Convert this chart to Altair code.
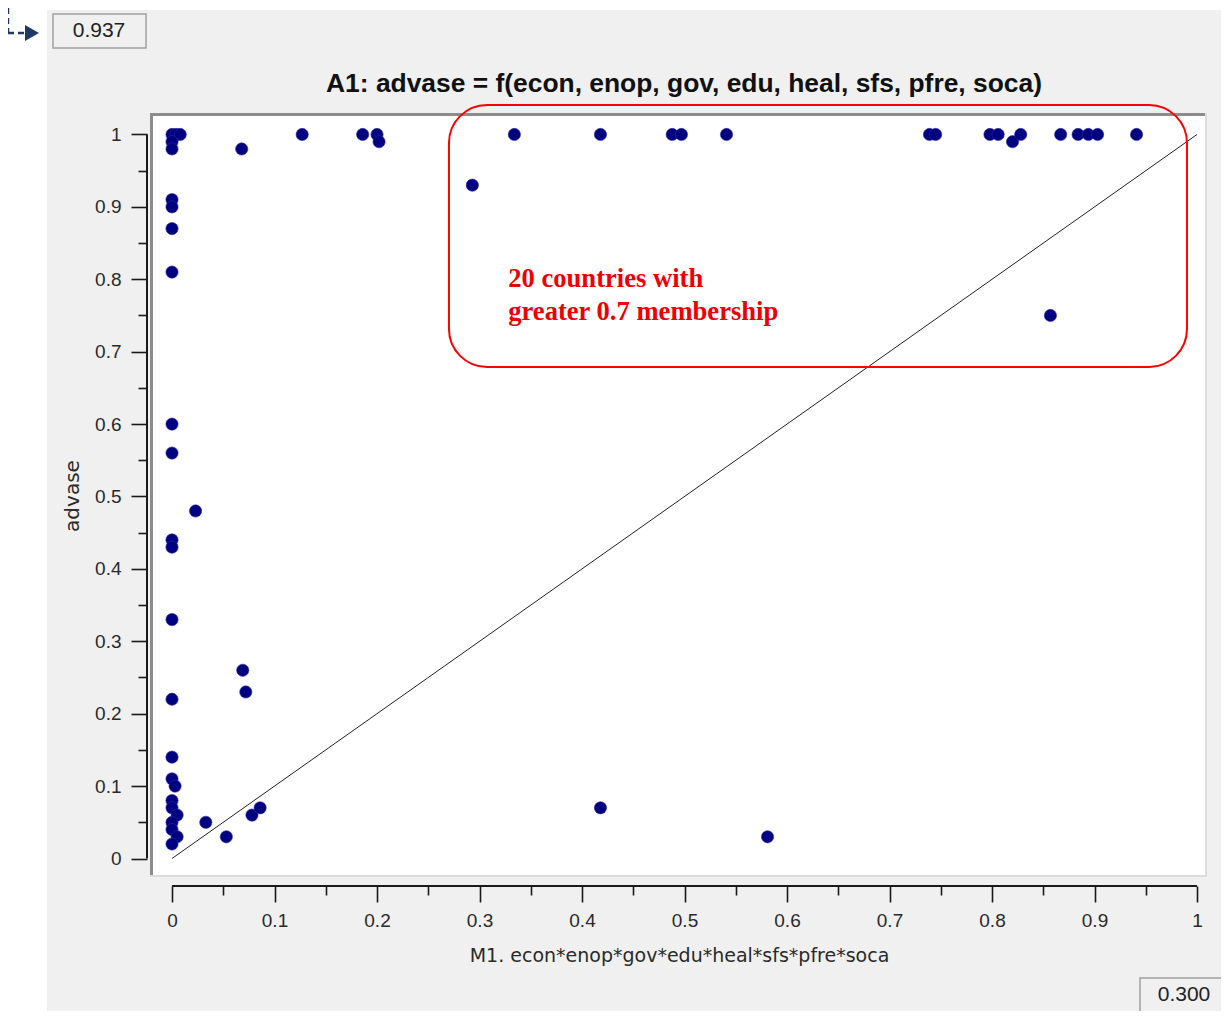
import altair as alt
import pandas as pd

# ---------------- data ----------------
x_vals = [0, 0.004, 0.008, 0, 0, 0.068, 0.127, 0.186, 0.200, 0.202, 0.293, 0.334, 0.418, 0.488, 0.497, 0.541,
          0.739, 0.745, 0.798, 0.806, 0.820, 0.828, 0.867, 0.884, 0.894, 0.903, 0.941, 0.857,
          0, 0, 0, 0, 0, 0, 0.023, 0, 0, 0, 0, 0,
          0.069, 0.072,
          0, 0.003, 0, 0, 0.005, 0, 0, 0.005, 0,
          0.033, 0.053, 0.078, 0.086, 0.418, 0.581]
y_vals = [1, 1, 1, 0.99, 0.98, 0.98, 1, 1, 1, 0.99, 0.93, 1, 1, 1, 1, 1,
          1, 1, 1, 1, 0.99, 1, 1, 1, 1, 1, 1, 0.75,
          0.91, 0.90, 0.87, 0.81, 0.60, 0.56, 0.48, 0.44, 0.43, 0.33, 0.22, 0.14,
          0.26, 0.23,
          0.11, 0.10, 0.08, 0.07, 0.06, 0.05, 0.04, 0.03, 0.02,
          0.05, 0.03, 0.06, 0.07, 0.07, 0.03]

diag_x = [0, 1]
diag_y = [0, 1]

tick_values = [round(i * 0.05, 2) for i in range(21)]

title_text = "A1: advase = f(econ, enop, gov, edu, heal, sfs, pfre, soca)"
x_title = "M1. econ*enop*gov*edu*heal*sfs*pfre*soca"
y_title = "advase"

note_lines = ["20 countries with", "greater 0.7 membership"]
note_x = [0.328]
note_y = [0.7894]

box_x1 = [0.2702]
box_x2 = [0.9902]
box_y1 = [1.0407]
box_y2 = [0.6789]

field_labels = ["0.937", "0.300"]

# ---------------- layout ----------------
W, H = 1052, 759
PAD = {"left": 145, "top": 108, "right": 16, "bottom": 136}
FONT = "Liberation Sans, Arial, sans-serif"
TFONT = "DejaVu Sans, Verdana, sans-serif"

xscale = alt.Scale(domain=[-0.01854, 1.0078], nice=False, zero=False)
yscale = alt.Scale(domain=[-0.02279, 1.02555], nice=False, zero=False)

major_test = "round(datum.value*20) % 2 === 0"
label_expr = "round(datum.value*20) % 2 === 0 ? format(datum.value, '~g') : ''"
tick_cond = {"condition": {"test": major_test, "value": 16}, "value": 9}

x_axis = alt.Axis(values=tick_values, labelExpr=label_expr, tickSize=tick_cond,
                  tickColor="#1a1a1a", tickWidth=1.6, domain=False, grid=False,
                  offset=11, labelFont=FONT, labelFontSize=19, labelColor="#2a2a2a",
                  labelPadding=9, labelOverlap=False, labelFlush=False,
                  title=x_title, titleFont=TFONT, titleFontSize=19,
                  titleFontWeight="normal", titleColor="#2a2a2a", titlePadding=16)
y_axis = alt.Axis(values=tick_values, labelExpr=label_expr, tickSize=tick_cond,
                  tickColor="#1a1a1a", tickWidth=1.6, domain=False, grid=False,
                  offset=6, labelFont=FONT, labelFontSize=19, labelColor="#2a2a2a",
                  labelPadding=10, labelOverlap=False, labelFlush=False,
                  title=y_title, titleFont=TFONT, titleFontSize=20,
                  titleFontWeight="normal", titleColor="#2a2a2a", titlePadding=12)

pts_df = pd.DataFrame({"x": x_vals, "y": y_vals})
diag_df = pd.DataFrame({"x": diag_x, "y": diag_y})

X = alt.X("x:Q", scale=xscale, axis=x_axis)
Y = alt.Y("y:Q", scale=yscale, axis=y_axis)

one = pd.DataFrame({"a": [0]})

# white strips outside the gray window
strip_left = alt.Chart(one).mark_rect(color="white").encode(
    x=alt.value(-PAD["left"]), x2=alt.value(-106), y=alt.value(-PAD["top"]), y2=alt.value(H + PAD["bottom"]))
strip_top = alt.Chart(one).mark_rect(color="white").encode(
    x=alt.value(-PAD["left"]), x2=alt.value(W + PAD["right"]), y=alt.value(-PAD["top"]), y2=alt.value(-106))

# plot frame (3D look)
b_top = alt.Chart(one).mark_rule(color="#8c8c8c", strokeWidth=3).encode(
    x=alt.value(-3), x2=alt.value(W), y=alt.value(-1.5))
b_left = alt.Chart(one).mark_rule(color="#8c8c8c", strokeWidth=3).encode(
    x=alt.value(-1.5), y=alt.value(-3), y2=alt.value(H))
b_bottom = alt.Chart(one).mark_rule(color="#dcdcdc", strokeWidth=2).encode(
    x=alt.value(-3), x2=alt.value(W + 2), y=alt.value(H + 1))
b_right = alt.Chart(one).mark_rule(color="#dcdcdc", strokeWidth=2).encode(
    x=alt.value(W + 1), y=alt.value(-3), y2=alt.value(H + 2))

diag = alt.Chart(diag_df).mark_line(color="#222222", strokeWidth=1).encode(x=X, y=Y)

points = alt.Chart(pts_df).mark_circle(color="#000080", opacity=1, size=150,
                                       stroke="#2a2aa0", strokeWidth=0.6).encode(x=X, y=Y)

# axis lines spanning 0..1
xline = alt.Chart(pd.DataFrame({"x": [0], "x2": [1]})).mark_rule(color="#1a1a1a", strokeWidth=2).encode(
    x=X, x2="x2:Q", y=alt.value(H + 11))
yline = alt.Chart(pd.DataFrame({"y": [0], "y2": [1]})).mark_rule(color="#1a1a1a", strokeWidth=2).encode(
    y=Y, y2="y2:Q", x=alt.value(-6))

# annotation
box_df = pd.DataFrame({"x": box_x1, "x2": box_x2, "y": box_y1, "y2": box_y2})
note_box = alt.Chart(box_df).mark_rect(fillOpacity=0, stroke="#ff0000", strokeWidth=2,
                                       cornerRadius=38, clip=False).encode(
    x=X, x2="x2:Q", y=Y, y2="y2:Q")
note_df = pd.DataFrame({"x": note_x, "y": note_y})
note = alt.Chart(note_df).mark_text(text=note_lines, color="#ee0000",
                                    font="Liberation Serif, Times New Roman, serif",
                                    fontSize=26.6, fontWeight="bold", align="left", baseline="alphabetic",
                                    lineHeight=33).encode(x=X, y=Y)

# chart title
title = alt.Chart(pd.DataFrame({"t": [title_text]})).mark_text(
    font=FONT, fontSize=26.4, fontWeight="bold", color="#111111", align="center", baseline="alphabetic").encode(
    x=alt.value(W / 2 + 5), y=alt.value(-24), text="t:N")

# value fields (UI boxes)
f1 = alt.Chart(one).mark_rect(fill="#f0f0f0", stroke="#a0a0a0", strokeWidth=1.5).encode(
    x=alt.value(-100), x2=alt.value(-7), y=alt.value(-102), y2=alt.value(-68))
f2 = alt.Chart(one).mark_rect(fill="#f0f0f0", stroke="#a0a0a0", strokeWidth=1.5).encode(
    x=alt.value(987), x2=alt.value(1072), y=alt.value(862), y2=alt.value(896))
t1 = alt.Chart(pd.DataFrame({"t": [field_labels[0]]})).mark_text(font=FONT, fontSize=21, color="#222222").encode(
    x=alt.value(-54), y=alt.value(-85), text="t:N")
t2 = alt.Chart(pd.DataFrame({"t": [field_labels[1]]})).mark_text(font=FONT, fontSize=21, color="#222222").encode(
    x=alt.value(1031), y=alt.value(879), text="t:N")

# dashed arrow at top-left
a_v = alt.Chart(one).mark_rule(color="#1f3864", strokeWidth=2.5, strokeDash=[6, 4]).encode(
    x=alt.value(-145), y=alt.value(-108), y2=alt.value(-83))
a_h = alt.Chart(one).mark_rule(color="#1f3864", strokeWidth=2.5, strokeDash=[6, 4]).encode(
    x=alt.value(-145), x2=alt.value(-128), y=alt.value(-83))
a_head = alt.Chart(one).mark_point(shape="triangle-right", filled=True, color="#1f3864",
                                   opacity=1, size=260).encode(
    x=alt.value(-121), y=alt.value(-83))

chart = alt.layer(
    strip_left, strip_top, b_top, b_left, b_bottom, b_right,
    diag, points, xline, yline, note_box, note, title, f1, f2, t1, t2, a_v, a_h, a_head
).properties(
    width=W, height=H,
    autosize=alt.AutoSizeParams(type="none"),
    padding=PAD,
).configure(background="#f0f0f0").configure_view(fill="white", stroke=None)

chart.save("out.html", embed_options={"renderer": "svg", "actions": False})
